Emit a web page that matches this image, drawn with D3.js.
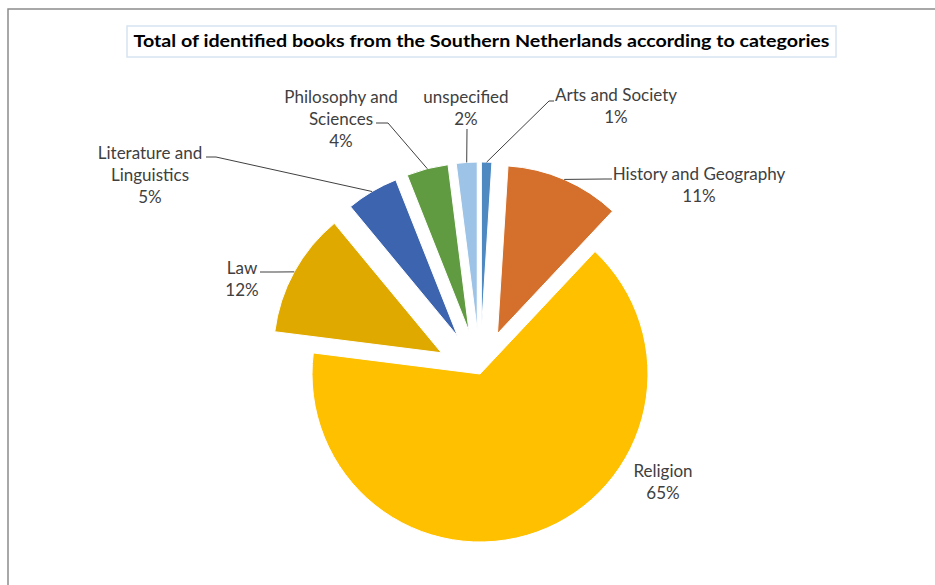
<!DOCTYPE html>
<html>
<head>
<meta charset="utf-8">
<script src="https://cdn.jsdelivr.net/npm/d3@7"></script>
<style>
  body { margin: 0; background: #fff; }
  text { font-family: Lato, "Open Sans", sans-serif; fill: #404040; }
</style>
</head>
<body>
<svg id="chart" width="935" height="585"></svg>
<script>
// data, clockwise from 12 o'clock
var categories = ["Arts and Society", "History and Geography", "Religion", "Law",
                  "Literature and Linguistics", "Philosophy and Sciences", "unspecified"];
var shares = [1, 11, 65, 12, 5, 4, 2];
var labelLines = [["Arts and Society"], ["History and Geography"], ["Religion"], ["Law"],
                  ["Literature and", "Linguistics"], ["Philosophy and", "Sciences"], ["unspecified"]];
var colors = ["#4E89C2", "#D4702C", "#FFC000", "#E0A900", "#3D64AE", "#609B41", "#9DC3E6"];
var exploded = [true, true, false, true, true, true, true];
var title = "Total of identified books from the Southern Netherlands according to categories";

window.addEventListener("load", makePie);
function makePie() {
    var svg = d3.select("#chart");
    var cx = 480, cy = 374, r = 168, gap = 44, lineH = 22;

    // frame
    svg.append("rect").attr("x", 8).attr("y", 9).attr("width", 1000).attr("height", 1000)
        .attr("fill", "none").attr("stroke", "#8c8c8c").attr("stroke-width", 1.5);

    // title box
    svg.append("rect").attr("x", 127).attr("y", 26).attr("width", 709).attr("height", 31)
        .attr("fill", "#fff").attr("stroke", "#d6e4f2").attr("stroke-width", 1.5);
    svg.append("text").attr("x", 481.5).attr("y", 47).attr("text-anchor", "middle")
        .style("font-weight", "bold").style("font-size", "17px").style("fill", "#000")
        .attr("textLength", 696).attr("lengthAdjust", "spacingAndGlyphs")
        .text(title);

    var pie = d3.pie().sort(null).value(d => d);
    var arcs = pie(shares);
    var arcMkr = d3.arc().innerRadius(0).outerRadius(r);
    var mid = d => (d.startAngle + d.endAngle) / 2;
    var off = (d, i) => exploded[i] ? gap : 0;

    var g = svg.append("g").attr("transform", "translate(" + cx + "," + cy + ")");
    g.selectAll("path").data(arcs).enter().append("path")
        .attr("d", arcMkr)
        .attr("fill", (d, i) => colors[i])
        .attr("stroke", "#fff").attr("stroke-width", 1)
        .attr("transform", (d, i) => "translate(" + off(d, i) * Math.sin(mid(d)) + ","
              + (-off(d, i) * Math.cos(mid(d))) + ")");

    // label placement (absolute px) and leader elbows
    var layout = [
        { x: 616, y: 101, elbow: [549, 101], tail: 554 },
        { x: 699, y: 180, elbow: [605, 179], tail: 612 },
        { x: 663, y: 477 },
        { x: 242, y: 274, elbow: [276, 272], tail: 260 },
        { x: 150, y: 159, elbow: [216, 157], tail: 206 },
        { x: 341, y: 103, elbow: [388, 123], tail: 376 },
        { x: 466, y: 103, elbow: [467, 129], tail: 467 }
    ];

    var lab = svg.append("g");
    arcs.forEach(function(d, i) {
        var L = layout[i];
        var a = mid(d), o = off(d, i);
        if (L.elbow) {
            var px = cx + (o + r) * Math.sin(a), py = cy - (o + r) * Math.cos(a);
            lab.append("polyline")
                .attr("points", [[px, py], L.elbow, [L.tail, L.elbow[1]]].map(p => p.join(",")).join(" "))
                .attr("fill", "none").attr("stroke", "#404040").attr("stroke-width", 1);
        }
        var t = lab.append("text").attr("text-anchor", "middle").style("font-size", "17px");
        labelLines[i].concat([d3.format(".0%")(shares[i] / d3.sum(shares))]).forEach(function(s, k) {
            t.append("tspan").attr("x", L.x).attr("y", L.y + k * lineH).text(s);
        });
    });
}
</script>
</body>
</html>
